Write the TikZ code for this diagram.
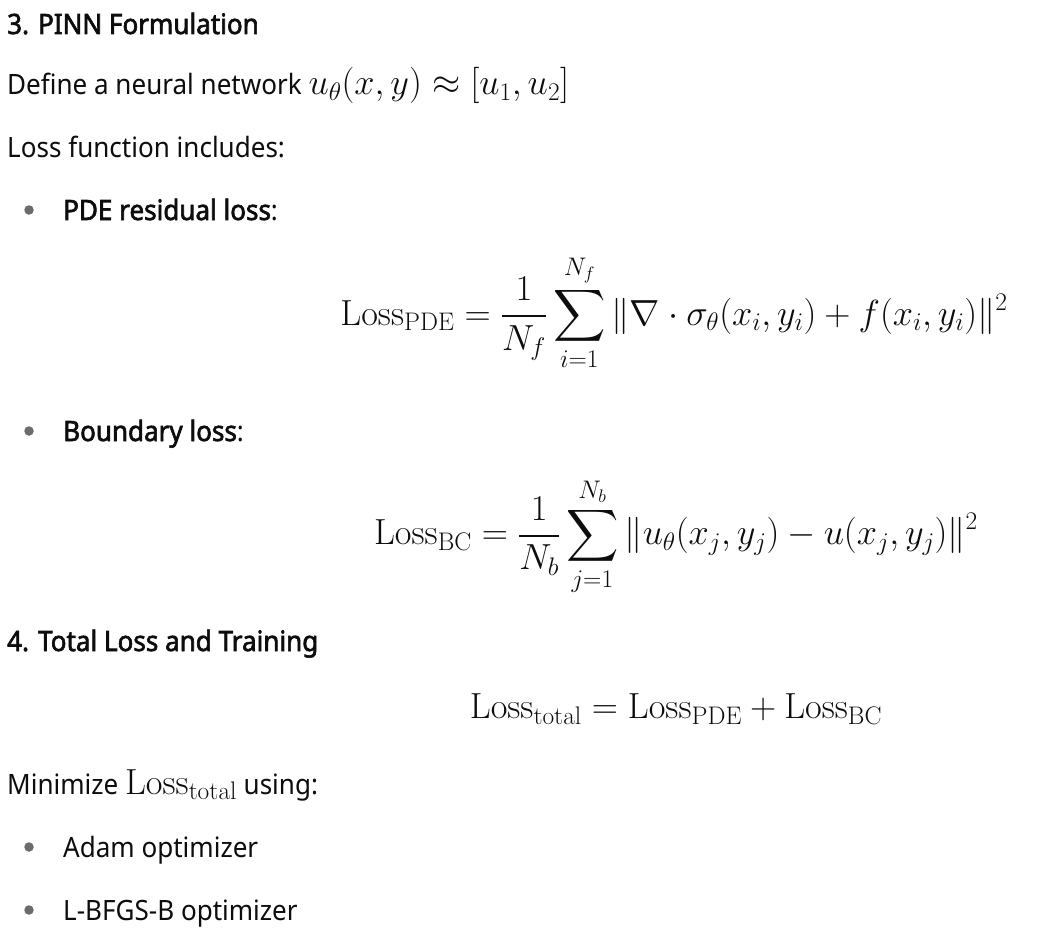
\RequirePackage{fix-cm}
\documentclass[tikz,border=0pt]{standalone}
\usepackage{amsmath,amssymb}
\usepackage[no-math]{fontspec}
\setmainfont{Noto Sans}[FakeStretch=0.93, BoldFont={Noto Sans}, BoldFeatures={FakeBold=2.2}]
\usepackage{xcolor}
\usepackage{tikz}
\usetikzlibrary{positioning,calc}

\definecolor{ink}{HTML}{0D0D0D}
\definecolor{bulletgray}{HTML}{6B6B6B}

% text sizes of the page: body text and the (larger) math
\newcommand{\bodyfont}{\fontsize{28}{32}\selectfont}
\newcommand{\mathsz}{\fontsize{36.3}{41}\selectfont}
\newcommand{\inm}[1]{{\mathsz$#1$}}

\begin{document}
\begin{tikzpicture}[x=1pt, y=-1pt,
    body/.style={anchor=base west, inner sep=0pt, font=\bodyfont, text=ink},
    head/.style={body, font=\bodyfont\bfseries},
    eqn/.style={anchor=center, inner sep=0pt, font=\mathsz, text=ink},
    bullet/.style={circle, fill=bulletgray, inner sep=0pt, minimum size=9.5pt}]
    \useasboundingbox (0,0) rectangle (1060,950);

    % Section 3
    \node[head] (sec3) at (7,34) {3. PINN Formulation};
    \node[body] (define) at (7,95) {Define a neural network \inm{u_\theta(x,y)\approx[u_1,u_2]}};
    \node[body] (lossinc) at (7,157) {Loss function includes:};

    % PDE residual
    \node[bullet] (b1) at (29,210) {};
    \node[body] (pdelab) at (63,220) {\textbf{PDE residual loss}:};
    \node[eqn] (pdeeq) at (674,313) {$\displaystyle \mathrm{Loss}_{\mathrm{PDE}} = \frac{1}{N_f}\sum_{i=1}^{N_f} \|\nabla\cdot\sigma_\theta(x_i,y_i)+f(x_i,y_i)\|^2$};

    % boundary
    \node[bullet] (b2) at (29,431) {};
    \node[body] (bclab) at (63,441) {\textbf{Boundary loss}:};
    \node[eqn] (bceq) at (676,537) {$\displaystyle \mathrm{Loss}_{\mathrm{BC}} = \frac{1}{N_b}\sum_{j=1}^{N_b} \|u_\theta(x_j,y_j)-u(x_j,y_j)\|^2$};

    % Section 4
    \node[head] (sec4) at (7,651) {4. Total Loss and Training};
    \node[eqn] (toteq) at (676,709) {$\mathrm{Loss}_{\mathrm{total}} = \mathrm{Loss}_{\mathrm{PDE}} + \mathrm{Loss}_{\mathrm{BC}}$};
    \node[body] (minim) at (7,794) {Minimize \inm{\mathrm{Loss}_{\mathrm{total}}} using:};

    % optimizers
    \node[bullet] (b3) at (29,847) {};
    \node[body] (adam) at (63,857) {Adam optimizer};
    \node[bullet] (b4) at (29,910) {};
    \node[body] (lbfgs) at (63,920) {L-BFGS-B optimizer};
\end{tikzpicture}
\end{document}
